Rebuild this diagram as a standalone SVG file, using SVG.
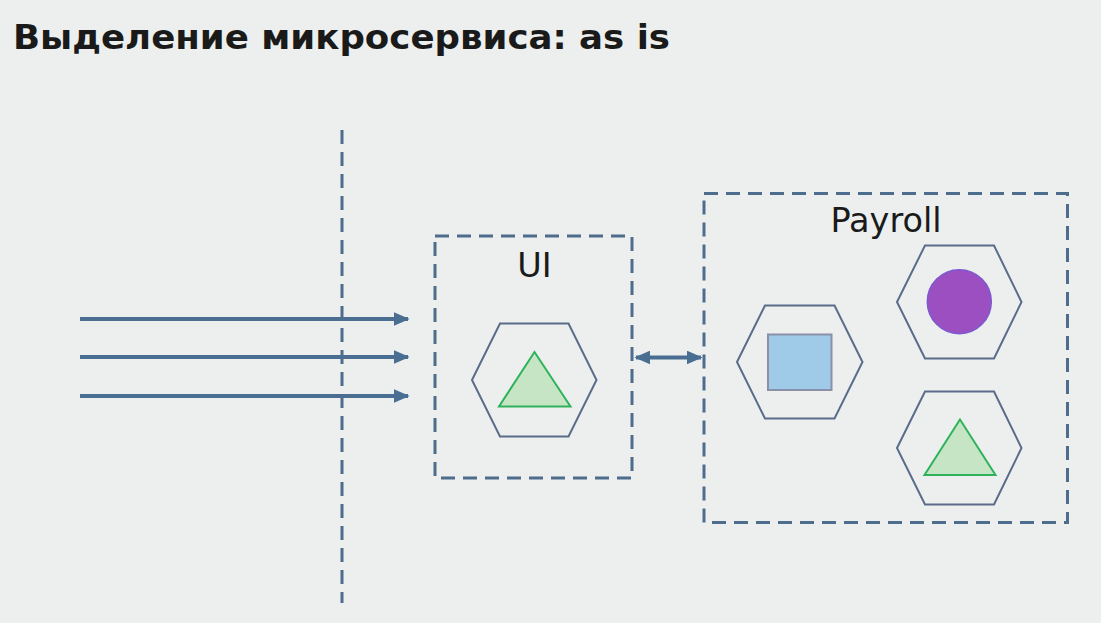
<svg xmlns="http://www.w3.org/2000/svg" width="1101" height="623" viewBox="0 0 1101 623">
<defs>
<style>
.dash{fill:none;stroke:#4E6C8C;stroke-width:3;stroke-dasharray:14 8}
.hex{fill:none;stroke:#5B6C8A;stroke-width:2}
.tri{fill:#C6E5C4;stroke:#2EB35C;stroke-width:2}
.conn{stroke:#4A6E92;stroke-width:4;fill:none}
.lbl{font-family:"DejaVu Sans",Verdana,sans-serif;font-size:33.5px;fill:#1a1a1a;text-anchor:middle}
</style>
<marker id="ah" viewBox="0 0 10 10" refX="9" refY="5" markerWidth="4" markerHeight="3.5" orient="auto-start-reverse" markerUnits="strokeWidth" preserveAspectRatio="none">
<path d="M0,0 L10,5 L0,10 z" fill="#4A6E92"/>
</marker>
</defs>
<rect width="1101" height="623" fill="#ECEFEE"/>
<text x="13" y="49" font-family="'DejaVu Sans',Verdana,sans-serif" font-weight="bold" font-size="33" fill="#1a1a1a" textLength="657" lengthAdjust="spacingAndGlyphs">Выделение микросервиса: as is</text>
<g id="boundary">
<line class="dash" x1="342" y1="130" x2="342" y2="603"/>
</g>
<g id="connectors">
<line class="conn" x1="80" y1="319" x2="408" y2="319" marker-end="url(#ah)"/>
<line class="conn" x1="80" y1="357" x2="408" y2="357" marker-end="url(#ah)"/>
<line class="conn" x1="80" y1="396" x2="408" y2="396" marker-end="url(#ah)"/>
<line class="conn" x1="636" y1="357.5" x2="701" y2="357.5" marker-start="url(#ah)" marker-end="url(#ah)"/>
</g>
<g id="ui">
<rect class="dash" x="435" y="236" width="197" height="242"/>
<text class="lbl" x="534.5" y="277">UI</text>
<polygon class="hex" points="472,380 500,323.5 568.5,323.5 596.5,380 568.5,436.5 500,436.5"/>
<polygon class="tri" points="534.5,352 499,406.5 570.5,406.5"/>
</g>
<g id="payroll">
<rect class="dash" x="704" y="193.5" width="363.5" height="329"/>
<text class="lbl" x="886" y="232">Payroll</text>
<g id="svc-square">
<polygon class="hex" points="737,362 765,305.5 834.5,305.5 862.5,362 834.5,418.5 765,418.5"/>
<rect x="768" y="334.5" width="63.5" height="55.5" fill="#9FCBE8" stroke="#8A90A8" stroke-width="2"/>
</g>
<g id="svc-circle">
<polygon class="hex" points="897,302 925,245.5 994,245.5 1021.5,302 994,358.5 925,358.5"/>
<circle cx="959.3" cy="301.7" r="32" fill="#9B4FC0" stroke="#7B5AD0" stroke-width="1.5"/>
</g>
<g id="svc-triangle">
<polygon class="hex" points="897,448 925,391.5 994,391.5 1021.5,448 994,504.5 925,504.5"/>
<polygon class="tri" points="960,419.5 924.5,475 995.5,475"/>
</g>
</g>
</svg>
